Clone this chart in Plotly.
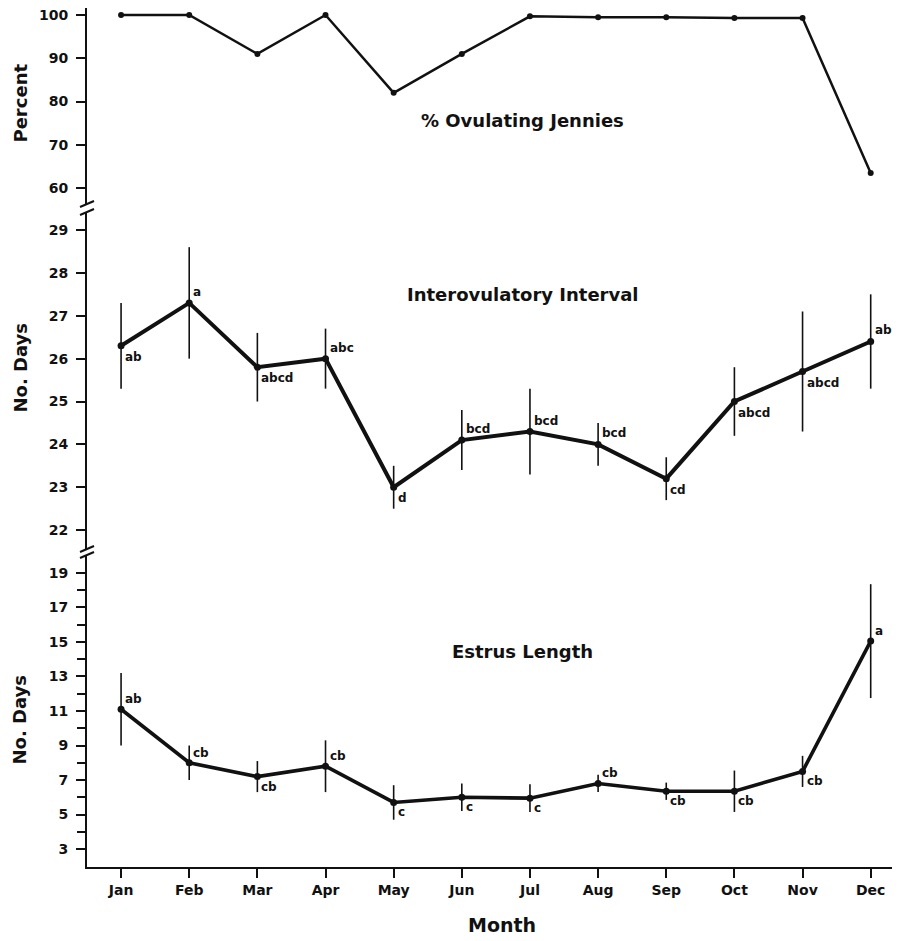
import plotly.graph_objects as go

months = ["Jan", "Feb", "Mar", "Apr", "May", "Jun", "Jul", "Aug", "Sep", "Oct", "Nov", "Dec"]

ovulating_pct = [100, 100, 91, 100, 82, 91, 99.7, 99.5, 99.5, 99.3, 99.3, 63.5]

interval_mean = [26.3, 27.3, 25.8, 26.0, 23.0, 24.1, 24.3, 24.0, 23.2, 25.0, 25.7, 26.4]
interval_err = [1.0, 1.3, 0.8, 0.7, 0.5, 0.7, 1.0, 0.5, 0.5, 0.8, 1.4, 1.1]
interval_letters = ["ab", "a", "abcd", "abc", "d", "bcd", "bcd", "bcd", "cd", "abcd", "abcd", "ab"]
interval_above = [False, True, False, True, False, True, True, True, False, False, False, True]

estrus_mean = [11.1, 8.0, 7.2, 7.8, 5.7, 6.0, 5.95, 6.8, 6.35, 6.35, 7.5, 15.05]
estrus_err = [2.1, 1.0, 0.9, 1.5, 1.0, 0.8, 0.8, 0.5, 0.5, 1.2, 0.9, 3.3]
estrus_letters = ["ab", "cb", "cb", "cb", "c", "c", "c", "cb", "cb", "cb", "cb", "a"]
estrus_above = [True, True, False, True, False, False, False, True, False, False, False, True]

FONT = "DejaVu Sans"
BLACK = "#111111"

fig = go.Figure()

fig.add_trace(go.Scatter(
    x=months, y=ovulating_pct, xaxis="x", yaxis="y",
    mode="lines+markers", line=dict(color=BLACK, width=2.5),
    marker=dict(color=BLACK, size=6), showlegend=False))

fig.add_trace(go.Scatter(
    x=months, y=interval_mean, xaxis="x", yaxis="y2",
    mode="lines+markers", line=dict(color=BLACK, width=4),
    marker=dict(color=BLACK, size=7),
    error_y=dict(type="data", array=interval_err, visible=True, width=0,
                 thickness=1.6, color=BLACK),
    showlegend=False))

fig.add_trace(go.Scatter(
    x=months, y=estrus_mean, xaxis="x", yaxis="y3",
    mode="lines+markers", line=dict(color=BLACK, width=3.6),
    marker=dict(color=BLACK, size=7),
    error_y=dict(type="data", array=estrus_err, visible=True, width=0,
                 thickness=1.6, color=BLACK),
    showlegend=False))

annotations = []
for m, v, t, a in zip(months, interval_mean, interval_letters, interval_above):
    annotations.append(dict(x=m, y=v, xref="x", yref="y2", text=t, showarrow=False,
                            xanchor="left", yanchor="middle", xshift=2,
                            yshift=11 if a else -11,
                            font=dict(family=FONT, size=12, color=BLACK, weight="bold")))
for m, v, t, a in zip(months, estrus_mean, estrus_letters, estrus_above):
    annotations.append(dict(x=m, y=v, xref="x", yref="y3", text=t, showarrow=False,
                            xanchor="left", yanchor="middle", xshift=2,
                            yshift=10 if a else -10,
                            font=dict(family=FONT, size=12, color=BLACK, weight="bold")))

title_font = dict(family=FONT, size=18, color=BLACK, weight="bold")
centered = dict(xref="paper", yref="paper", showarrow=False, xanchor="center", yanchor="middle")
# panel titles
annotations.append(dict(x=0.536, y=0.8696, text="% Ovulating Jennies", font=title_font, **centered))
annotations.append(dict(x=0.536, y=0.6659, text="Interovulatory Interval", font=title_font, **centered))
annotations.append(dict(x=0.536, y=0.2503, text="Estrus Length", font=title_font, **centered))
# y axis titles
annotations.append(dict(x=-0.0830, y=0.8894, text="Percent", textangle=-90, font=title_font, **centered))
annotations.append(dict(x=-0.0830, y=0.5809, text="No. Days", textangle=-90, font=title_font, **centered))
annotations.append(dict(x=-0.0830, y=0.1711, text="No. Days", textangle=-90, font=title_font, **centered))
# x axis title
annotations.append(dict(x=0.510, y=-0.0675, text="Month",
                        font=dict(family=FONT, size=19, color=BLACK, weight="bold"), **centered))

# axis break marks
shapes = []
for yb in [0.7718, 0.7625, 0.3702, 0.3632]:
    shapes.append(dict(type="line", xref="paper", yref="paper",
                       xsizemode="pixel", ysizemode="pixel",
                       xanchor=0, yanchor=yb, x0=-7, x1=7, y0=-3, y1=3,
                       line=dict(color=BLACK, width=2)))

tick_font = dict(family=FONT, size=14, color=BLACK, weight="bold")
yax_common = dict(showline=True, linecolor=BLACK, linewidth=2, ticks="outside",
                  ticklen=9, tickwidth=2, tickcolor=BLACK, showgrid=False,
                  zeroline=False, tickfont=tick_font, anchor="x", fixedrange=True,
                  automargin=False, ticklabelstandoff=5, ticklabeloverflow="allow")

# the page adds an 8px body margin, so the figure is sized to fit the 900x941 window
fig.update_layout(
    width=892, height=933,
    margin=dict(l=79, r=0, t=0, b=74),
    paper_bgcolor="white", plot_bgcolor="white",
    xaxis=dict(type="category", range=[-0.5, 11.43], anchor="y3", domain=[0, 1],
               showline=True, linecolor=BLACK, linewidth=2, ticks="outside",
               ticklen=9, tickwidth=2, tickcolor=BLACK, showgrid=False,
               tickfont=dict(family=FONT, size=14, color=BLACK, weight="bold"),
               tickangle=0, automargin=False, ticklabeloverflow="allow"),
    yaxis=dict(domain=[0.7718, 1.0], range=[56.3, 101.62], tickvals=[60, 70, 80, 90, 100],
               **yax_common),
    yaxis2=dict(domain=[0.3702, 0.7625], range=[21.56, 29.42], tickvals=[22, 23, 24, 25, 26, 27, 28, 29],
                **yax_common),
    yaxis3=dict(domain=[0, 0.3632], range=[1.96, 20.04],
                tickvals=[3, 5, 7, 9, 11, 13, 15, 17, 19],
                minor=dict(tickmode="array", tickvals=[4, 6, 8, 10, 12, 14, 16, 18],
                           ticks="outside", ticklen=8, tickwidth=2, tickcolor=BLACK),
                **yax_common),
    annotations=annotations,
    shapes=shapes,
)

fig.write_html("out.html")
